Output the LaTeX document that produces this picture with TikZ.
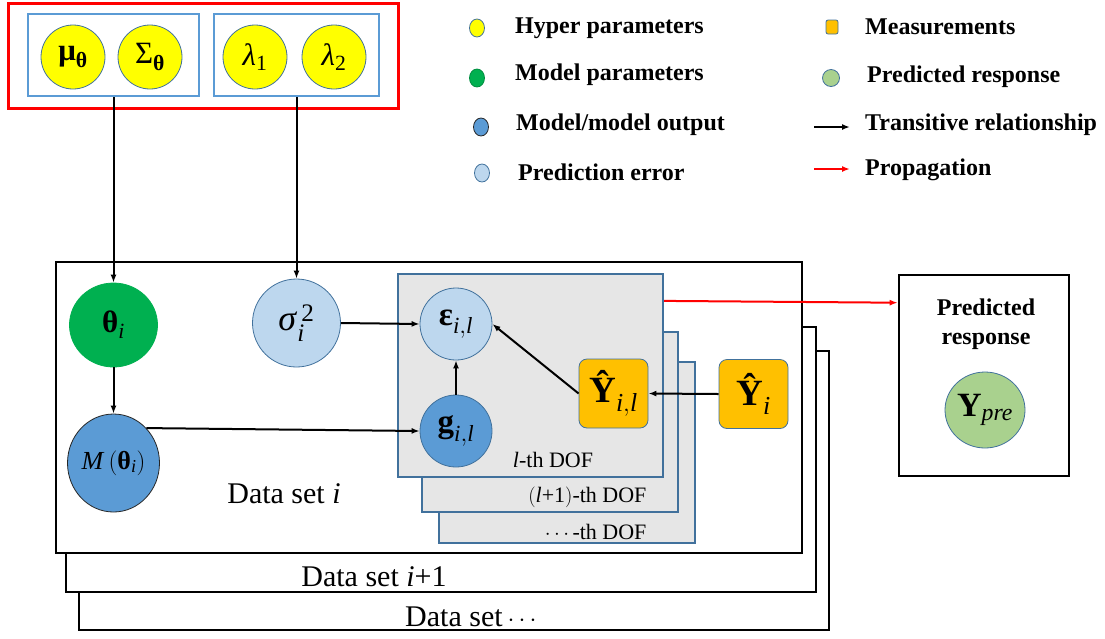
\documentclass[tikz,border=0pt]{standalone}
\usepackage{amsmath}
\usepackage{fontspec}
\setmainfont{Liberation Serif}
\usetikzlibrary{arrows.meta,shapes.geometric}
\definecolor{frameblue}{HTML}{5B9BD5}
\definecolor{edgeblue}{HTML}{41719C}
\definecolor{hypyellow}{HTML}{FFFF00}
\definecolor{parmgreen}{HTML}{00B050}
\definecolor{modelblue}{HTML}{5B9BD5}
\definecolor{errblue}{HTML}{BDD7EE}
\definecolor{measorange}{HTML}{FFC000}
\definecolor{predgreen}{HTML}{A9D18E}
\definecolor{dofgray}{HTML}{E6E6E6}
\newcommand{\fs}[1]{\fontsize{#1}{#1}\selectfont}
\newcommand{\tb}[1]{\text{\textbf{#1}}}
\newcommand{\ti}[1]{\text{\textit{#1}}}
\begin{document}
\begin{tikzpicture}[x=1pt,y=-1pt,
  hyp/.style={ellipse, draw=edgeblue, fill=hypyellow, line width=0.8pt, minimum width=64pt, minimum height=64pt, inner sep=0pt, font=\fs{31}},
  varnode/.style={ellipse, line width=0.8pt, inner sep=0pt, font=\fs{33}},
  meas/.style={rectangle, rounded corners=8pt, draw=edgeblue, fill=measorange, line width=0.8pt, minimum width=69pt, minimum height=69pt, inner sep=0pt, font=\fs{37}},
  conn/.style={line width=2pt, -{Latex[length=8pt,width=6pt]}},
  prop/.style={conn, red},
  dsbox/.style={rectangle, draw=black, line width=2.6pt, fill=white, inner sep=0pt},
  dofbox/.style={rectangle, draw=edgeblue, line width=2.2pt, fill=dofgray, inner sep=0pt},
  bluebox/.style={rectangle, draw=frameblue, line width=2.4pt, inner sep=0pt},
  dslabel/.style={font=\fs{30}},
  doflabel/.style={font=\fs{22}},
  lgdot/.style={ellipse, line width=0.8pt, minimum width=15pt, minimum height=18pt, inner sep=0pt},
  lgtext/.style={anchor=west, font=\fs{24}\bfseries, inner sep=0pt}
]
\useasboundingbox (0,0) rectangle (1105,638);

% hyper parameter group
\node[rectangle, draw=red, line width=3pt, minimum width=390pt, minimum height=105pt, inner sep=0pt] (hyper) at (203,55.5) {};
\node[bluebox, minimum width=171pt, minimum height=82pt] (box1) at (113.5,55) {};
\node[bluebox, minimum width=165pt, minimum height=82pt] (box2) at (296.5,55) {};
\node[hyp] (mu) at (73,57) {$\tb{μ}_{\tb{θ}}$};
\node[hyp] (Sig) at (150,57) {$\text{Σ}_{\tb{θ}}$};
\node[hyp] (lam1) at (255,57) {$\ti{λ}_{\text{1}}$};
\node[hyp] (lam2) at (334,57) {$\ti{λ}_{\text{2}}$};

% legend
\node[lgdot, fill=hypyellow, draw=edgeblue] (lg1) at (477,28) {};
\node[lgtext] (lt1) at (515,28) {Hyper parameters};
\node[lgdot, fill=parmgreen, draw=parmgreen!80!black] (lg2) at (477,78) {};
\node[lgtext] (lt2) at (515,75) {Model parameters};
\node[lgdot, fill=modelblue, draw=black!85] (lg3) at (481,127) {};
\node[lgtext] (lt3) at (516,125) {Model/model output};
\node[lgdot, fill=errblue, draw=edgeblue] (lg4) at (482,173) {};
\node[lgtext] (lt4) at (518,172) {Prediction error};
\node[rectangle, rounded corners=2pt, fill=measorange, draw=edgeblue, line width=0.8pt, minimum width=12pt, minimum height=14pt, inner sep=0pt] (lg5) at (832,27) {};
\node[lgtext] (lt5) at (865,27) {Measurements};
\node[lgdot, fill=predgreen, draw=edgeblue, minimum width=17pt, minimum height=17pt] (lg6) at (831,78) {};
\node[lgtext] (lt6) at (867,77) {Predicted response};
\coordinate (la1) at (814,127);
\coordinate (lb1) at (850,127);
\draw[conn] (la1) -- (lb1);
\node[lgtext] (lt7) at (865,125) {Transitive relationship};
\coordinate (la2) at (814,169);
\coordinate (lb2) at (850,169);
\draw[prop] (la2) -- (lb2);
\node[lgtext] (lt8) at (865,170) {Propagation};

% data set boxes
\node[dsbox, minimum width=750pt, minimum height=279pt] (ds3) at (454,490.5) {};
\node[dsbox, minimum width=750pt, minimum height=265pt] (ds2) at (441,459.5) {};
\node[dsbox, minimum width=746pt, minimum height=291pt] (ds1) at (429,407.5) {};
\node[dslabel] (dst1) at (284,494) {Data set \textit{i}};
\node[dslabel] (dst2) at (374,577) {Data set \textit{i}+1};
\node[dslabel] (dst3) at (473,617) {Data set\,$\cdots$};

% DOF boxes
\node[dofbox, minimum width=256pt, minimum height=181pt] (dof3) at (567,452.5) {};
\node[dofbox, minimum width=256pt, minimum height=180pt] (dof2) at (550,422) {};
\node[dofbox, minimum width=265pt, minimum height=203pt] (dof1) at (530.5,375.5) {};
\node[doflabel] (dofl1) at (553,460) {\textit{l}-th DOF};
\node[doflabel, anchor=east] (dofl2) at (650,497) {$\left(\ti{l}\text{+1}\right)$-th DOF};
\node[doflabel, anchor=east] (dofl3) at (650,532) {$\cdots$-th DOF};

% variables
\node[varnode, fill=parmgreen, draw=parmgreen, minimum width=88pt, minimum height=84pt, font=\fs{31}] (theta) at (113.5,325) {$\tb{θ}_{\ti{i}}$};
\node[varnode, fill=modelblue, draw=black!85, minimum width=92pt, minimum height=98pt, font=\fs{26}] (M) at (113.5,463) {$\ti{M}\left(\tb{θ}_{\ti{i}}\right)$};
\node[varnode, fill=errblue, draw=edgeblue, minimum width=88pt, minimum height=88pt, font=\fs{36}] (sig) at (296.5,323) {$\ti{σ}_{\ti{i}}^{\,\text{2}}$};
\node[varnode, fill=errblue, draw=edgeblue, minimum width=72pt, minimum height=72pt] (eps) at (456,324) {$\tb{ε}_{\ti{i},\ti{l}}$};
\node[varnode, fill=modelblue, draw=edgeblue, minimum width=72pt, minimum height=72pt] (g) at (456,431) {$\tb{g}_{\ti{i},\ti{l}}$};
\node[meas] (Yil) at (613.5,393.5) {$\tb{Ŷ}_{\ti{i},\ti{l}}$};
\node[meas] (Yi) at (753.5,394) {$\tb{Ŷ}_{\ti{i}}$};

% predicted response
\node[dsbox, minimum width=170pt, minimum height=201pt] (pred) at (984,375.5) {};
\node[font=\fs{24}\bfseries, align=center, inner sep=0pt] (predt) at (986,324) {Predicted\\[5pt]response};
\node[varnode, fill=predgreen, draw=edgeblue, minimum width=80pt, minimum height=76pt, font=\fs{34}] (Ypre) at (985,410) {$\tb{Y}_{\ti{pre}}$};

% connectors
\draw[conn] (box1.south) -- (theta.north);
\draw[conn] (box2.south) -- (sig.north);
\draw[conn] (theta.south) -- (M.north);
\draw[conn] (M.north east) -- (g.west);
\draw[conn] (sig.east) -- (eps.west);
\draw[conn] (g.north) -- (eps.south);
\draw[conn] (Yil.west) -- (eps.east);
\draw[conn] (Yi.west) -- (Yil.east);
\draw[prop] ([yshift=-28pt]dof1.north east) -- ([yshift=-29pt]pred.north west);
\end{tikzpicture}
\end{document}
